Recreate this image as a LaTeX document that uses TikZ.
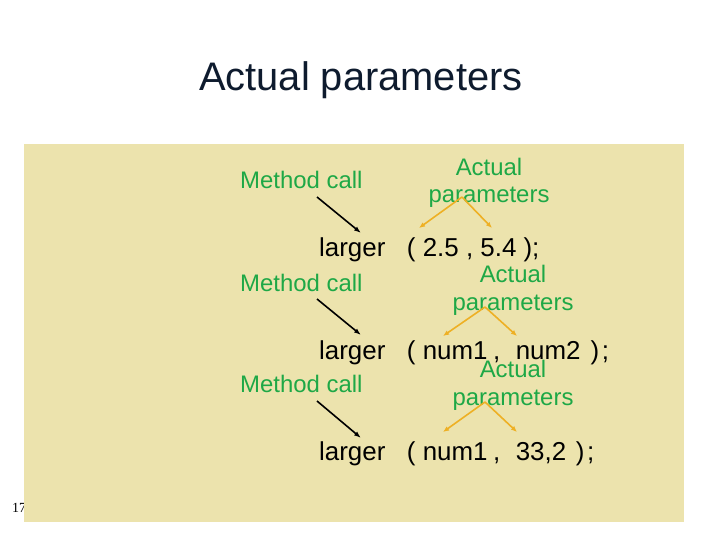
\documentclass[tikz,border=0pt]{standalone}
\usepackage{fontspec}
\setmainfont{Liberation Sans}
\newfontfamily\pagenumfont{Liberation Serif}
\usetikzlibrary{arrows.meta}
\definecolor{slidebg}{RGB}{236,227,173}
\definecolor{titleblue}{RGB}{14,27,46}
\definecolor{notegreen}{RGB}{30,168,70}
\definecolor{pointorange}{RGB}{238,176,36}
\begin{document}
\begin{tikzpicture}[x=1bp,y=-1bp,
                        code/.style={anchor=base west,inner sep=0pt,font=\fontsize{26}{31}\selectfont},
                        callnote/.style={anchor=base west,inner sep=0pt,text=notegreen,font=\fontsize{24}{28}\selectfont},
                        argnote/.style={anchor=base,inner sep=0pt,align=center,text=notegreen,font=\fontsize{24}{28}\selectfont},
                        callarrow/.style={-{Latex[length=7bp,width=5bp]},line width=1.6bp},
                        argarrow/.style={-{Latex[length=6bp,width=5bp]},line width=1.6bp,pointorange}]
                        \useasboundingbox (0,0) rectangle (720,540);

                        \node[anchor=base west,inner sep=0pt,font=\pagenumfont\fontsize{14}{16}\selectfont] (pagenum) at (12,512) {17};
                        \fill[slidebg] (24,144) rectangle (684,522);
                        \node[anchor=base west,inner sep=0pt,text=titleblue,font=\fontsize{40}{48}\selectfont] (title) at (199,91) {Actual parameters};

                        % first call
                        \node[callnote] (method1) at (240,189) {Method call};
                        \node[argnote] (actual1) at (489,203) {Actual\\parameters};
                        \node[code] (call1) at (319,257) {larger\ \ \ (\ 2.5 , 5.4 );};
                        \coordinate (mtail1) at (317,197);
                        \coordinate (mhead1) at (361,233);
                        \coordinate (apex1) at (462,197);
                        \coordinate (left1) at (419,228);
                        \coordinate (right1) at (492,228);
                        \draw[callarrow] (mtail1) -- (mhead1);
                        \draw[argarrow] (apex1) -- (left1);
                        \draw[argarrow] (apex1) -- (right1);

                        % second call
                        \node[callnote] (method2) at (240,291) {Method call};
                        \node[argnote] (actual2) at (513,310) {Actual\\parameters};
                        \node[code] (call2) at (319,359) {larger\ \ \ ( num1\hspace{5.5bp},\hspace{15.5bp}num2\hspace{10bp})\hspace{2.6bp};};
                        \coordinate (mtail2) at (317,299);
                        \coordinate (mhead2) at (361,335);
                        \coordinate (apex2) at (485,307);
                        \coordinate (left2) at (443,336);
                        \coordinate (right2) at (517,336);
                        \draw[callarrow] (mtail2) -- (mhead2);
                        \draw[argarrow] (apex2) -- (left2);
                        \draw[argarrow] (apex2) -- (right2);

                        % third call
                        \node[callnote] (method3) at (240,392) {Method call};
                        \node[argnote] (actual3) at (513,405) {Actual\\parameters};
                        \node[code] (call3) at (319,460) {larger\ \ \ ( num1\hspace{5.5bp},\hspace{15.5bp}33,2\hspace{9.7bp})\hspace{2.6bp};};
                        \coordinate (mtail3) at (317,401);
                        \coordinate (mhead3) at (361,438);
                        \coordinate (apex3) at (485,402);
                        \coordinate (left3) at (443,432);
                        \coordinate (right3) at (517,432);
                        \draw[callarrow] (mtail3) -- (mhead3);
                        \draw[argarrow] (apex3) -- (left3);
                        \draw[argarrow] (apex3) -- (right3);
                    \end{tikzpicture}
\end{document}
